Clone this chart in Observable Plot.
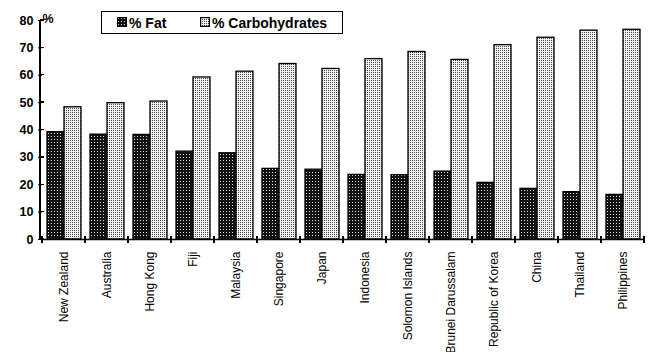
<!DOCTYPE html>
<html>
<head>
<meta charset="utf-8">
<script src="https://cdn.jsdelivr.net/npm/d3@7"></script>
<script src="https://cdn.jsdelivr.net/npm/@observablehq/plot@0.6"></script>
<style>
  html, body { margin: 0; padding: 0; background: #fff; }
  #wrap { position: relative; width: 648px; height: 352px; font-family: "Liberation Sans", Arial, sans-serif; }
  #legend { position: absolute; left: 101px; top: 11px; width: 242px; height: 23px; border: 1.3px solid #000; background: #fff; box-sizing: border-box; }
  #legend .item { position: absolute; top: 3px; font-size: 14px; font-weight: bold; line-height: 16px; white-space: nowrap; }
  #legend svg { position: absolute; top: 5px; }
</style>
</head>
<body>
<div id="wrap">
  <div id="legend"></div>
</div>
<script>
// Dietary energy share by country (percent)
const categories = [
  "New Zealand", "Australia", "Hong Kong", "Fiji", "Malaysia", "Singapore", "Japan",
  "Indonesia", "Solomon Islands", "Brunei Darussalam", "Republic of Korea", "China",
  "Thailand", "Philippines"
];
const fatPct  = [39.2, 38.3, 38.2, 32.1, 31.5, 25.8, 25.5, 23.6, 23.5, 24.8, 20.7, 18.5, 17.3, 16.3];
const carbPct = [48.3, 49.8, 50.4, 59.2, 61.3, 64.1, 62.3, 65.9, 68.5, 65.6, 71.0, 73.7, 76.3, 76.6];
const seriesNames = ["% Fat", "% Carbohydrates"];
const yTicks = [0, 10, 20, 30, 40, 50, 60, 70, 80];
const yUnit = "%";

const rows = categories.flatMap((country, i) => [
  {country, series: seriesNames[0], value: fatPct[i]},
  {country, series: seriesNames[1], value: carbPct[i]}
]);

const fills = ["url(#fatDots)", "url(#carbDots)"];

const chart = Plot.plot({
  width: 648,
  height: 352,
  marginLeft: 40,
  marginRight: 3,
  marginTop: 20,
  marginBottom: 113,
  style: {fontFamily: "'Liberation Sans', Arial, sans-serif", background: "transparent", overflow: "visible"},
  fx: {domain: categories, paddingInner: 0, paddingOuter: 0, label: null},
  x: {domain: seriesNames, paddingInner: 0, paddingOuter: 0.2, axis: null},
  y: {domain: [0, 80], axis: null},
  color: {domain: seriesNames, range: fills},
  marks: [
    Plot.barY(rows, {fx: "country", x: "series", y: "value", fill: "series", stroke: "#000", strokeWidth: 1.3}),
    Plot.ruleY([0], {stroke: "#000", strokeWidth: 1.3}),
    Plot.axisFx({anchor: "bottom", tickSize: 0, tickPadding: 12, tickRotate: -90, fontSize: 12, label: null, fill: "#000"}),
    Plot.axisY({ticks: yTicks, tickSize: 4, tickPadding: 5, fontSize: 12.5, fontWeight: "bold", label: null, stroke: "#000", fill: "#000"})
  ]
});

const svg = d3.select(chart);

// Stipple patterns for the two series
const defs = svg.insert("defs", ":first-child");
const fatPat = defs.append("pattern").attr("id", "fatDots").attr("patternUnits", "userSpaceOnUse")
  .attr("width", 3).attr("height", 3);
fatPat.append("rect").attr("width", 3).attr("height", 3).attr("fill", "#111");
fatPat.append("rect").attr("x", 1).attr("y", 1).attr("width", 1).attr("height", 1).attr("fill", "#ddd");
const carbPat = defs.append("pattern").attr("id", "carbDots").attr("patternUnits", "userSpaceOnUse")
  .attr("width", 2).attr("height", 2);
carbPat.append("rect").attr("width", 2).attr("height", 2).attr("fill", "#f4f4f4");
carbPat.append("rect").attr("width", 1).attr("height", 1).attr("fill", "#444");

// Axis lines and boundary ticks drawn from the chart's own scales
const y = chart.scale("y");
const fx = chart.scale("fx");
const x0 = fx.range[0];
const y0 = y.apply(0);
const g = svg.append("g").attr("stroke", "#000").attr("stroke-width", 1.3).attr("shape-rendering", "crispEdges");
g.append("line").attr("x1", x0).attr("x2", x0).attr("y1", y.apply(80)).attr("y2", y0);
for (const t of yTicks) {
  g.append("line").attr("x1", x0).attr("x2", x0 + 4).attr("y1", y.apply(t)).attr("y2", y.apply(t));
}
const bounds = categories.map(c => fx.apply(c)).concat([fx.apply(categories[categories.length - 1]) + fx.bandwidth]);
for (const b of bounds) {
  g.append("line").attr("x1", b).attr("x2", b).attr("y1", y0 - 3).attr("y2", y0 + 4);
}
svg.append("text").attr("x", x0 + 8).attr("y", y.apply(80) + 3)
  .attr("font-size", 12.5).attr("font-weight", "bold").attr("fill", "#000").text(yUnit);

const wrap = document.getElementById("wrap");
wrap.insertBefore(chart, wrap.firstChild);

// Legend
const legend = d3.select("#legend");
const pos = [{sw: 15, tx: 27}, {sw: 98, tx: 110}];
seriesNames.forEach((name, i) => {
  legend.append("svg").attr("width", 10).attr("height", 10).style("left", pos[i].sw + "px")
    .append("rect").attr("x", 0.6).attr("y", 0.6).attr("width", 8.8).attr("height", 8.8)
    .attr("fill", fills[i]).attr("stroke", "#000").attr("stroke-width", 1.2);
  legend.append("span").attr("class", "item").style("left", pos[i].tx + "px").text(name);
});
</script>
</body>
</html>
